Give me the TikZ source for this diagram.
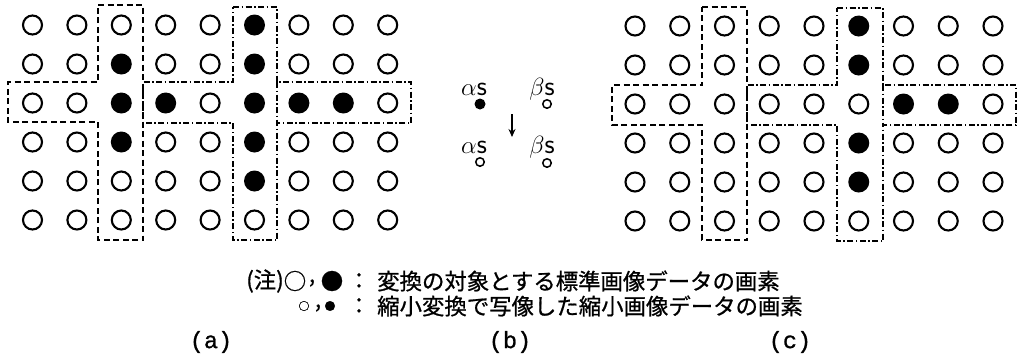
\documentclass[tikz,border=0pt]{standalone}
\usepackage{fontspec}
\newfontfamily\jp{Noto Sans CJK JP}[FakeBold=0.8]
\newfontfamily\mono{Liberation Mono}[FakeBold=1]
\usetikzlibrary{arrows.meta}
\begin{document}
\begin{tikzpicture}[x=1pt,y=-1pt,
  pix/.style={circle,draw,line width=2.1pt,minimum size=19pt,inner sep=0pt},
  pixfill/.style={circle,fill,minimum size=21pt,inner sep=0pt},
  sopen/.style={circle,draw,line width=1.5pt,minimum size=8.5pt,inner sep=0pt},
  sfill/.style={circle,fill,minimum size=11pt,inner sep=0pt},
  dashbox/.style={line width=1.8pt,dash pattern=on 6pt off 3.5pt},
  dotbox/.style={line width=1.8pt,dash pattern=on 6pt off 2.5pt on 1.5pt off 2.5pt},
  lbl/.style={font=\fontsize{28}{28}\selectfont,anchor=base,inner sep=0pt},
  jtxt/.style={font=\jp\fontsize{22.4}{24}\selectfont,inner sep=0pt},
  captxt/.style={font=\mono\fontsize{23.5}{24}\selectfont,inner sep=0pt}]
\useasboundingbox (0,0) rectangle (1018,360);
% filled cells
\foreach \p in {1-6,2-3,2-6,3-3,3-4,3-6,3-7,3-8,4-3,4-6,5-6}
  {\expandafter\gdef\csname fa-\p\endcsname{1}}
\foreach \p in {1-6,2-6,3-7,3-8,4-6,5-6}
  {\expandafter\gdef\csname fc-\p\endcsname{1}}
% grid (a)
\foreach \r in {1,...,6}{
  \foreach \c in {1,...,9}{
    \ifcsname fa-\r-\c\endcsname
      \node[pixfill] (a-\r-\c) at ({32.5+44.4*(\c-1)},{25+39*(\r-1)}) {};
    \else
      \node[pix] (a-\r-\c) at ({32.5+44.4*(\c-1)},{25+39*(\r-1)}) {};
    \fi
  }}
% grid (c)
\foreach \r in {1,...,6}{
  \foreach \c in {1,...,9}{
    \ifcsname fc-\r-\c\endcsname
      \node[pixfill] (c-\r-\c) at ({635+44.75*(\c-1)},{26+39*(\r-1)}) {};
    \else
      \node[pix] (c-\r-\c) at ({635+44.75*(\c-1)},{26+39*(\r-1)}) {};
    \fi
  }}
% boxes (a)
\draw[dashbox] (98,5) -- (143,5) -- (143,240) -- (98,240) -- (98,122) -- (8,122) -- (8,82) -- (98,82) -- cycle;
\draw[dotbox] (233,7) -- (277,7) -- (277,82) -- (411,82) -- (411,123) -- (277,123) -- (277,240) -- (233,240) -- (233,123) -- (143,123) -- (143,82) -- (233,82) -- cycle;
\draw[dotbox] (277,82) -- (277,123);
% boxes (c)
\draw[dashbox] (702,7) -- (747,7) -- (747,240) -- (702,240) -- (702,125) -- (612,125) -- (612,85) -- (702,85) -- cycle;
\draw[dotbox] (837,8) -- (883,8) -- (883,85) -- (1016,85) -- (1016,125) -- (883,125) -- (883,241) -- (837,241) -- (837,125) -- (747,125) -- (747,85) -- (837,85) -- cycle;
\draw[dotbox] (883,85) -- (883,125);
% (b)
\node[lbl] (al1) at (474,95) {$\alpha$\textsf{s}};
\node[lbl] (be1) at (542,95) {$\beta$\textsf{s}};
\node[sfill] (da1) at (480,104) {};
\node[sopen] (db1) at (547,104) {};
\coordinate (ar1) at (512,114);
\coordinate (ar2) at (512,137);
\draw[line width=1.6pt,-{Stealth[length=8pt,width=7pt]}] (ar1) -- (ar2);
\node[lbl] (al2) at (474,153) {$\alpha$\textsf{s}};
\node[lbl] (be2) at (542,153) {$\beta$\textsf{s}};
\node[sopen] (da2) at (480,162) {};
\node[sopen] (db2) at (547,163) {};
% legend
\node[jtxt,anchor=east] (note) at (284,281) {(注)};
\node[jtxt] (o1) at (295,281) {○};
\node[jtxt] (cm1) at (312,283) {,};
\node[jtxt] (f1) at (332,281) {●};
\node[jtxt] (col1) at (359,281) {：};
\node[jtxt,anchor=west] (t1) at (377,281) {変換の対象とする標準画像データの画素};
\node[jtxt,font=\jp\fontsize{11}{12}\selectfont] (o2) at (304,306) {○};
\node[jtxt] (cm2) at (318,308) {,};
\node[jtxt,font=\jp\fontsize{11}{12}\selectfont] (f2) at (330,306) {●};
\node[jtxt] (col2) at (359,306) {：};
\node[jtxt,anchor=west] (t2) at (377,306) {縮小変換で写像した縮小画像データの画素};
% captions
\node[captxt] (ca) at (211,342) {(a)};
\node[captxt] (cb) at (510,342) {(b)};
\node[captxt] (cc) at (790,342) {(c)};
\end{tikzpicture}
\end{document}
